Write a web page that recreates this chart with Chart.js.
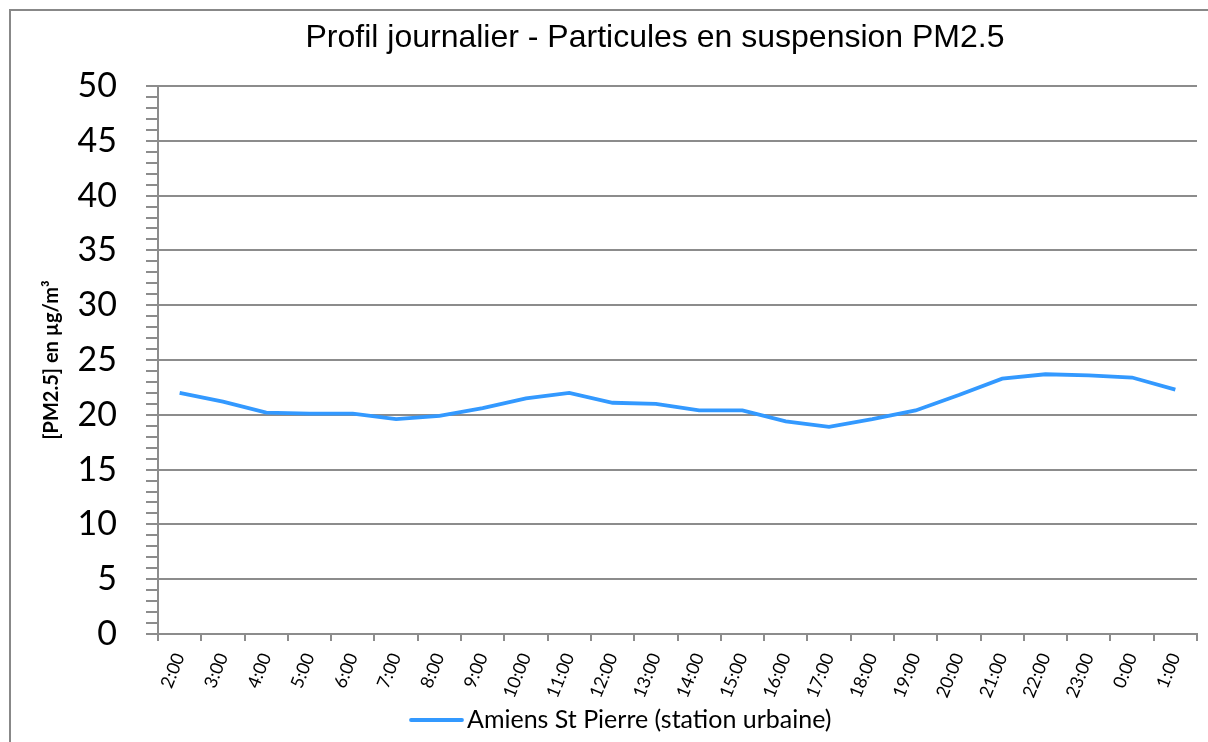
<!DOCTYPE html>
<html><head><meta charset="utf-8">
<script src="https://cdn.jsdelivr.net/npm/chart.js@4.4.0/dist/chart.umd.min.js"></script>
<style>html,body{margin:0;padding:0;background:#fff;overflow:hidden}#wrap{width:1208px;height:742px;position:relative}</style>
</head><body><div id="wrap"><canvas id="c" width="1208" height="742"></canvas></div>
<script>
// ---- data ----
const chartTitle = 'Profil journalier - Particules en suspension PM2.5';
const yAxisTitle = '[PM2.5] en µg/m³';
const seriesLabel = 'Amiens St Pierre (station urbaine)';
const hours = ['2:00','3:00','4:00','5:00','6:00','7:00','8:00','9:00','10:00','11:00','12:00','13:00',
               '14:00','15:00','16:00','17:00','18:00','19:00','20:00','21:00','22:00','23:00','0:00','1:00'];
const pm25 = [22.0, 21.2, 20.2, 20.1, 20.1, 19.6, 19.9, 20.6, 21.5, 22.0, 21.1, 21.0,
              20.4, 20.4, 19.4, 18.9, 19.6, 20.4, 21.8, 23.3, 23.7, 23.6, 23.4, 22.3];
const yMin = 0, yMax = 50, yMajorStep = 5, yMinorStep = 1;

// ---- styles ----
const lineColor = '#3399ff';
const gridColor = '#8c8c8c';

const decor = {
  id: 'decor',
  beforeDraw(chart) {
    const ctx = chart.ctx;
    ctx.save();
    ctx.fillStyle = '#fff';
    ctx.fillRect(0, 0, chart.width, chart.height);
    ctx.strokeStyle = '#888';
    ctx.lineWidth = 2;
    ctx.beginPath();
    ctx.moveTo(10, chart.height + 5);
    ctx.lineTo(10, 10);
    ctx.lineTo(chart.width + 5, 10);
    ctx.stroke();
    ctx.restore();
  },
  afterDraw(chart) {
    const ctx = chart.ctx;
    ctx.save();
    // title
    ctx.fillStyle = '#000';
    ctx.font = '32px "Liberation Sans", Arial, sans-serif';
    ctx.textAlign = 'center';
    ctx.textBaseline = 'middle';
    ctx.fillText(chartTitle, 655, 38);
    // legend
    const ds = chart.data.datasets[0];
    ctx.strokeStyle = ds.borderColor;
    ctx.lineWidth = ds.borderWidth;
    ctx.lineCap = 'round';
    ctx.beginPath();
    ctx.moveTo(411, 720);
    ctx.lineTo(462, 720);
    ctx.stroke();
    ctx.font = '25px Lato, sans-serif';
    ctx.textAlign = 'left';
    ctx.fillText(ds.label, 467, 720);
    ctx.restore();
  }
};

new Chart(document.getElementById('c'), {
  type: 'line',
  data: {
    labels: hours,
    datasets: [{
      label: seriesLabel,
      data: pm25,
      borderColor: lineColor,
      backgroundColor: lineColor,
      borderWidth: 3.8,
      pointRadius: 0,
      tension: 0,
      fill: false
    }]
  },
  options: {
    responsive: false,
    animation: false,
    devicePixelRatio: 1,
    layout: { padding: { top: 86, left: 10, right: 11, bottom: 0 } },
    plugins: { legend: { display: false }, title: { display: false }, tooltip: { enabled: false } },
    scales: {
      x: {
        type: 'category',
        offset: true,
        grid: { offset: true, drawOnChartArea: false, color: gridColor, lineWidth: 2, tickLength: 7 },
        border: { display: true, color: gridColor, width: 2 },
        ticks: {
          autoSkip: false, minRotation: 68, maxRotation: 68, padding: 9,
          color: '#000', font: { family: 'Lato', size: 18 }
        },
        afterFit(scale) { scale.height = 108; }
      },
      y: {
        min: yMin, max: yMax,
        grid: {
          color: (c) => (c.tick && c.tick.value % yMajorStep === 0) ? gridColor : 'rgba(0,0,0,0)',
          tickColor: gridColor,
          lineWidth: 2, tickLength: 12
        },
        border: { display: true, color: gridColor, width: 2 },
        ticks: {
          stepSize: yMinorStep, autoSkip: false, padding: 29,
          color: '#000', font: { family: 'Lato', size: 34 },
          callback: (v) => (v % yMajorStep === 0 ? String(v) : '')
        },
        title: {
          display: true, text: yAxisTitle, color: '#000',
          font: { family: 'Lato', size: 20, weight: 'bold' },
          padding: { top: 30, bottom: 0 }
        },
        afterFit(scale) { scale.width = 148; }
      }
    }
  },
  plugins: [decor]
});
</script></body></html>
